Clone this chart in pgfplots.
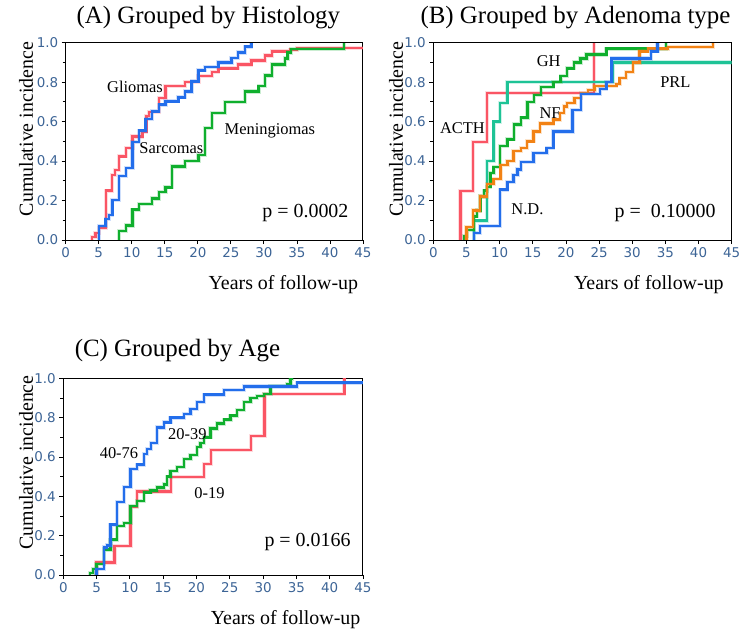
\documentclass[border=0pt]{standalone}
\usepackage{fontspec}
\setmainfont{Liberation Serif}
\newfontfamily\tickfont{DejaVu Sans}
\usepackage{pgfplots}
\pgfplotsset{compat=1.18}
\definecolor{cred}{RGB}{250,85,100}
\definecolor{cblue}{RGB}{35,110,235}
\definecolor{cgreen}{RGB}{15,175,45}
\definecolor{cteal}{RGB}{30,195,150}
\definecolor{corange}{RGB}{242,130,20}
\definecolor{tickcol}{RGB}{60,100,150}
\pgfplotsset{km/.style={
  scale only axis, height=197.3bp,
  xmin=0,xmax=45,ymin=0,ymax=1,
  xtick={0,5,...,45}, ytick={0,0.2,0.4,0.6,0.8,1.0},
  minor y tick num=1,
  tick pos=left, tick align=outside,
  major tick length=4bp, minor tick length=3bp,
  every tick/.style={black, line width=0.8bp},
  axis line style={black, line width=1bp},
  /pgf/number format/assume math mode=true,
  yticklabel style={/pgf/number format/fixed, /pgf/number format/fixed zerofill, /pgf/number format/precision=1},
  ticklabel style={font=\tickfont\fontsize{13.5}{14}\selectfont, text=tickcol},
  every axis plot/.append style={const plot mark left, mark=none, line width=2.4bp,
     preaction={draw, line width=4.2bp, draw opacity=0.22}},
  label style={font=\fontsize{20}{22}\selectfont},
  title style={font=\fontsize{25}{28}\selectfont, anchor=center},
  xlabel style={anchor=east},
  ylabel style={anchor=center},
}}
\newcommand{\lab}{\fontsize{16.5}{18}\selectfont}
\newcommand{\pv}{\fontsize{20}{22}\selectfont}
\begin{document}
\begin{tikzpicture}
\useasboundingbox (0,0) rectangle (739bp,-630bp);
% Panel A
\begin{axis}[km, width=297.3bp, at={(65.7bp,-240bp)}, anchor=south west,
  title={(A) Grouped by Histology}, title style={at={(axis description cs:0.48,1.095)}},
  xlabel={Years of follow-up}, xlabel style={at={(axis description cs:0.9956,-0.228)}},
  ylabel={Cumulative incidence}, ylabel style={at={(axis description cs:-0.1335,0.5626)}}]
\addplot[cred] coordinates {(4,0)(4,0.015)(4.5,0.035)(5,0.06)(6.1,0.25)(7,0.33)(7.5,0.355)(8.1,0.424)(9.1,0.466)(10.1,0.525)(11.6,0.55)(12.2,0.63)(12.6,0.65)(14.1,0.72)(15.1,0.78)(18.1,0.80)(20.1,0.83)(22.1,0.85)(23.1,0.87)(26.1,0.89)(28.1,0.91)(30.2,0.935)(31.2,0.956)(34,0.965)(35,0.973)(45,0.973)};
\addplot[cgreen] coordinates {(8.07,0)(8.07,0.047)(9.1,0.074)(10.1,0.154)(11.1,0.184)(13.1,0.21)(14.1,0.243)(15.1,0.267)(16.1,0.373)(18.1,0.40)(20.1,0.432)(21.1,0.568)(22.1,0.643)(24.1,0.70)(27.1,0.753)(29.2,0.78)(30.2,0.834)(31.2,0.89)(33.2,0.92)(33.6,0.95)(34.1,0.968)(42.1,0.968)(42.1,1.0)};
\addplot[cblue] coordinates {(5.05,0)(5.05,0.07)(6.05,0.106)(6.56,0.128)(7.06,0.204)(8.07,0.323)(9.1,0.365)(10.1,0.497)(11.1,0.554)(12.1,0.613)(13.1,0.652)(14.1,0.686)(15.1,0.703)(17.05,0.723)(18.06,0.753)(19.07,0.804)(20.08,0.86)(21.1,0.877)(23.1,0.90)(25.1,0.922)(26.1,0.95)(27.1,0.98)(28.1,1.0)};
\node[font=\lab] at (axis cs:10.49,0.775) {Gliomas};
\node[font=\lab] at (axis cs:16.0,0.466) {Sarcomas};
\node[font=\lab] at (axis cs:30.9,0.552) {Meningiomas};
\node[font=\pv, anchor=east] at (axis cs:43.33,0.137) {p = 0.0002};
\end{axis}
% Panel B
\begin{axis}[km, width=298.4bp, at={(433.3bp,-240bp)}, anchor=south west,
  title={(B) Grouped by Adenoma type}, title style={at={(axis description cs:0.4766,1.095)}},
  xlabel={Years of follow-up}, xlabel style={at={(axis description cs:0.985,-0.228)}},
  ylabel={Cumulative incidence}, ylabel style={at={(axis description cs:-0.125,0.5626)}}]
\addplot[cred] coordinates {(4.1,0)(4.1,0.247)(5.96,0.497)(8.13,0.745)(24.2,0.745)(24.2,1.0)};
\addplot[cteal] coordinates {(6.1,0)(6.1,0.098)(8.1,0.40)(9.1,0.60)(10.05,0.694)(11.16,0.80)(27.1,0.80)(27.1,0.90)(45,0.90)};
\addplot[cgreen] coordinates {(4.6,0)(4.6,0.02)(5.1,0.05)(6.1,0.12)(6.6,0.15)(7.1,0.22)(7.6,0.25)(8.1,0.27)(8.6,0.34)(9.1,0.37)(10.05,0.475)(11.16,0.51)(12.2,0.585)(13.2,0.62)(14.2,0.70)(15.2,0.736)(16.2,0.776)(18.1,0.80)(19.2,0.83)(20.2,0.87)(21.2,0.90)(22.2,0.92)(23.1,0.94)(26.1,0.97)(35.1,0.97)(35.1,1.0)};
\addplot[corange] coordinates {(5.0,0)(5.0,0.066)(6.0,0.15)(7.0,0.22)(8.1,0.285)(9.1,0.31)(10.15,0.38)(11.2,0.40)(12.1,0.45)(13.2,0.466)(14.1,0.50)(15.1,0.55)(16.1,0.59)(18.1,0.61)(19.1,0.643)(19.7,0.677)(20.2,0.694)(21.3,0.72)(22.3,0.745)(23.3,0.76)(24.3,0.78)(27.6,0.79)(28.1,0.82)(29.1,0.85)(30.1,0.90)(31.1,0.956)(32.4,0.97)(35.4,0.978)(42.2,0.978)(42.2,1.0)};
\addplot[cblue] coordinates {(6.1,0)(6.1,0.035)(7.0,0.07)(10.05,0.255)(11.16,0.294)(12.1,0.33)(12.7,0.357)(13.2,0.395)(15.1,0.44)(17.1,0.466)(18.1,0.55)(21.0,0.66)(22.3,0.74)(25.1,0.765)(26.1,0.80)(26.9,0.92)(32.8,0.956)(33.8,1.0)};
\node[font=\lab] at (axis cs:17.4,0.907) {GH};
\node[font=\lab] at (axis cs:36.5,0.802) {PRL};
\node[font=\lab] at (axis cs:4.4,0.566) {ACTH};
\node[font=\lab] at (axis cs:17.6,0.642) {NF};
\node[font=\lab] at (axis cs:14.2,0.156) {N.D.};
\node[font=\pv, anchor=east] at (axis cs:43.1,0.135) {p =\ \ 0.10000};
\end{axis}
% Panel C
\begin{axis}[km, width=299.7bp, height=196.7bp, at={(63.3bp,-575bp)}, anchor=south west,
  title={(C) Grouped by Age}, title style={at={(axis description cs:0.381,1.110)}},
  xlabel={Years of follow-up}, xlabel style={at={(axis description cs:1.003,-0.229)}},
  ylabel={Cumulative incidence}, ylabel style={at={(axis description cs:-0.1245,0.572)}}]
\addplot[cred] coordinates {(5,0)(5,0.064)(7.7,0.146)(10.1,0.347)(11.1,0.425)(16.2,0.497)(21.1,0.564)(22.2,0.636)(28.2,0.708)(30.2,0.92)(42.2,0.92)(42.2,1.0)};
\addplot[cgreen] coordinates {(4,0)(4,0.01)(4.5,0.03)(5,0.055)(6.1,0.13)(7.1,0.18)(8.1,0.25)(9.1,0.265)(10.1,0.35)(11.1,0.375)(12.1,0.42)(13.1,0.43)(14.1,0.445)(15.1,0.46)(15.6,0.50)(16.1,0.53)(17.1,0.55)(18.1,0.59)(19.1,0.61)(20.1,0.65)(20.6,0.67)(21.1,0.70)(22.1,0.745)(23.1,0.77)(24.1,0.79)(25.1,0.81)(26.1,0.84)(27.1,0.88)(28.1,0.90)(29.1,0.91)(30.1,0.92)(31.1,0.96)(33.6,0.97)(34.1,0.995)(34.3,1.0)};
\addplot[cblue] coordinates {(5,0)(5,0.03)(6.1,0.14)(6.6,0.15)(7.1,0.256)(8.1,0.37)(9.1,0.446)(10.1,0.54)(11.1,0.561)(12.1,0.615)(12.6,0.64)(13.2,0.671)(14.1,0.75)(15.1,0.776)(16.1,0.80)(18.1,0.818)(19.1,0.844)(20.1,0.88)(21.1,0.917)(24.1,0.94)(27.1,0.958)(35.1,0.978)(45,0.978)};
\node[font=\lab] at (axis cs:8.36,0.622) {40-76};
\node[font=\lab] at (axis cs:18.62,0.717) {20-39};
\node[font=\lab] at (axis cs:21.95,0.415) {0-19};
\node[font=\pv, anchor=east] at (axis cs:43.65,0.169) {p = 0.0166};
\end{axis}
\end{tikzpicture}
\end{document}
